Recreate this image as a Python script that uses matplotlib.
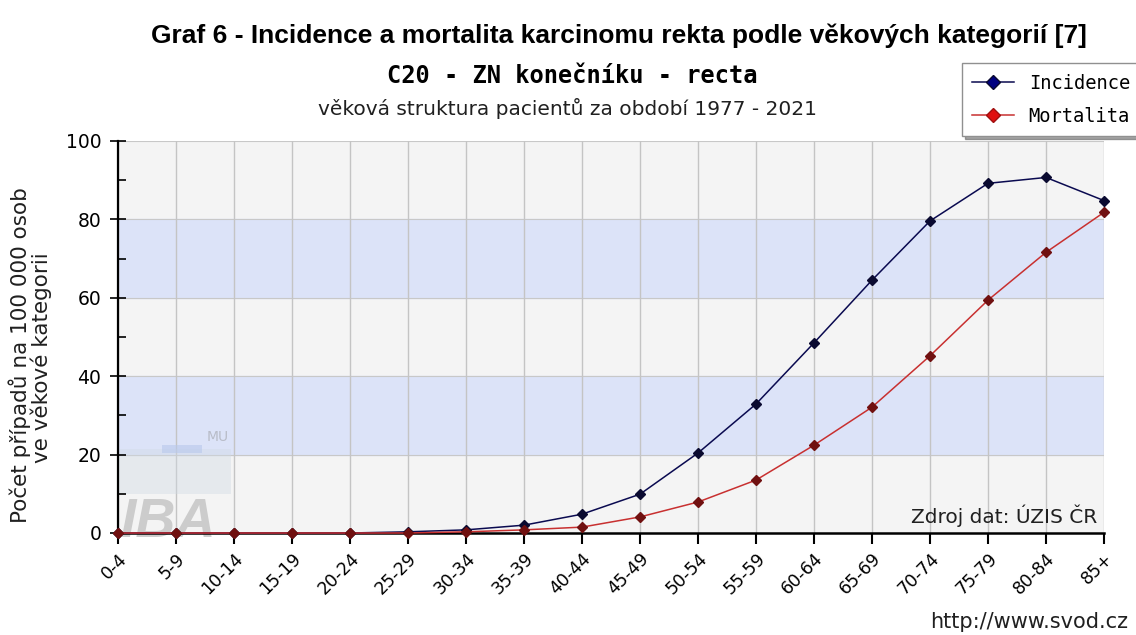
import numpy as np
import matplotlib.pyplot as plt
from matplotlib.patches import Rectangle

# age categories
categories = ['0-4', '5-9', '10-14', '15-19', '20-24', '25-29', '30-34', '35-39',
              '40-44', '45-49', '50-54', '55-59', '60-64', '65-69', '70-74',
              '75-79', '80-84', '85+']
incidence = [0, 0, 0, 0, 0, 0.3, 0.8, 2.0, 4.8, 9.9, 20.4, 32.9, 48.5, 64.5,
             79.6, 89.2, 90.7, 84.8]
mortalita = [0, 0, 0, 0, 0, 0.0, 0.3, 0.8, 1.5, 4.1, 7.9, 13.5, 22.4, 32.1,
             45.2, 59.4, 71.6, 81.8]
y_ticks = [0, 20, 40, 60, 80, 100]
bands = [(20, 40), (60, 80)]


def f_00():
	fig = plt.figure(figsize=(11.36, 6.35), dpi=100)
	ax = fig.add_axes([118/1136, 1-533/635, (1104-118)/1136, (533-141)/635])
	x = np.arange(len(categories))

	#background and bands
	ax.set_facecolor('#f4f4f4')
	for (lo, hi) in bands:
		ax.axhspan(lo, hi, color='#dce3f8', zorder=0)
	for yy in [20, 40, 60, 80, 100]:
		ax.axhline(yy, color='#c8c8c8', lw=0.8, zorder=0.5)
	for xx in x:
		ax.axvline(xx, color='#c4c4c4', lw=1, zorder=0.5)

	#watermark
	ax.add_patch(Rectangle((0.0, 0.10), 0.115, 0.115, transform=ax.transAxes,
			color='#d0dae4', alpha=0.4, lw=0, zorder=0.6))
	ax.add_patch(Rectangle((0.045, 0.205), 0.04, 0.02, transform=ax.transAxes,
			color='#b8c8ec', alpha=0.6, lw=0, zorder=0.6))
	ax.text(0.002, -0.01, 'IBA', transform=ax.transAxes, fontsize=40,
		fontweight='bold', style='italic', color='#cccccc', zorder=0.7,
		family='Liberation Sans')
	ax.text(0.09, 0.235, 'MU', transform=ax.transAxes, fontsize=10,
		color='#b8bcc8', zorder=0.7)

	ax.plot(x, incidence, color='#0a0a50', lw=1.1, marker='D', ms=5,
		mfc='#0a0a30', mec='#0a0a30', clip_on=False, zorder=3,
		label='Incidence')
	ax.plot(x, mortalita, color='#c83030', lw=1.1, marker='D', ms=5,
		mfc='#701010', mec='#701010', clip_on=False, zorder=3,
		label='Mortalita')

	ax.set_xlim(0, len(categories)-1)
	ax.set_ylim(0, 100)

	#frame customization
	ax.spines['right'].set_color('none')
	ax.spines['top'].set_color('none')
	ax.spines['left'].set_linewidth(1.6)
	ax.spines['bottom'].set_linewidth(1.8)

	ax.set_yticks(y_ticks)
	ax.set_yticks([10, 30, 50, 70, 90], minor=True)
	ax.tick_params(axis='y', which='major', direction='inout', length=12,
			width=1.2, labelsize=13.5, pad=6)
	ax.tick_params(axis='y', which='minor', direction='in', length=6, width=1.2)
	ax.set_xticks(x)
	ax.set_xticklabels(categories, rotation=45, ha='right',
			rotation_mode='anchor', fontsize=12.5)
	ax.tick_params(axis='x', direction='out', length=8, width=1.5, pad=4)

	fig.text(0.0175, 0.441, 'Počet případů na 100 000 osob', rotation=90,
		ha='center', va='center', fontsize=15.5, color='#202020')
	fig.text(0.036, 0.436, 've věkové kategorii', rotation=90,
		ha='center', va='center', fontsize=15.5, color='#202020')

	fig.text(0.545, 0.943, 'Graf 6 - Incidence a mortalita karcinomu rekta podle věkových kategorií [7]',
		ha='center', va='center', fontsize=19, fontweight='bold',
		family='Liberation Sans')
	fig.text(0.504, 0.881, 'C20 - ZN konečníku - recta', ha='center',
		va='center', fontsize=17, fontweight='bold', family='DejaVu Sans Mono')
	fig.text(0.5, 0.829, 'věková struktura pacientů za období 1977 - 2021',
		ha='center', va='center', fontsize=14.5, color='#202020')

	ax.text(0.993, 0.015, 'Zdroj dat: ÚZIS ČR', transform=ax.transAxes,
		ha='right', va='bottom', fontsize=14.5, color='#202020')
	fig.text(0.993, 0.02, 'http://www.svod.cz', ha='right', va='center',
		fontsize=15, color='#202020')

	leg = fig.legend(loc='upper right', bbox_to_anchor=(1.012, 0.915),
			prop={'family': 'DejaVu Sans Mono', 'size': 13.5},
			fancybox=False, shadow=True, edgecolor='#909090',
			handlelength=2.2, borderpad=0.55, labelspacing=0.75)
	leg.get_frame().set_linewidth(1)
	leg.legend_handles[1].set_markerfacecolor('#e01010')
	leg.legend_handles[1].set_markeredgecolor('#a01010')
	leg.legend_handles[0].set_markerfacecolor('#000080')
	for h in leg.legend_handles:
		h.set_markersize(7)

	fig.savefig('out.png', dpi=100)
#----------------------------------------------------------
if __name__=='__main__':
	f_00()
